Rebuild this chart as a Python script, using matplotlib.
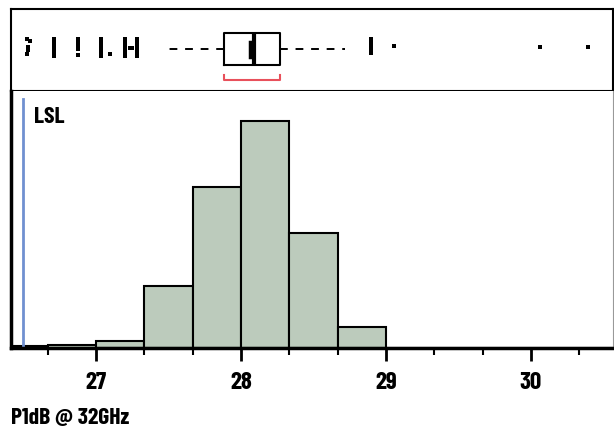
import matplotlib

matplotlib.use("Agg")
import matplotlib.pyplot as plt
import numpy as np

plt.rcParams["font.family"] = ["Barlow Condensed", "Liberation Sans", "DejaVu Sans"]
plt.rcParams["font.weight"] = "semibold"

# histogram bins (width 1/3) and counts
bin_edges = [26 + i / 3 for i in range(1, 15)]
counts = [5, 7, 15, 125, 327, 462, 234, 42, 1, 0, 0, 1, 1]

# box plot summary
q1 = 27.883
median = 28.09
q3 = 28.269
whisker_lo = 27.46
whisker_hi = 28.717
mean_value = 28.065
short_half_lo = 27.883
short_half_hi = 28.269

# outliers (value, jitter height in box panel)
outlier_x = [26.521, 26.548, 26.528, 26.528, 26.521,
             26.71, 26.71, 26.71, 26.71, 26.71, 26.71,
             26.876, 26.876, 26.876, 26.876, 26.876,
             27.035, 27.035, 27.035, 27.035, 27.035, 27.035, 27.097,
             27.2, 27.2, 27.2, 27.2, 27.2, 27.2, 27.235, 27.25,
             27.283, 27.283, 27.283, 27.283, 27.283, 27.283,
             28.9, 28.9, 28.9, 28.9, 28.9, 29.055, 30.062, 30.393]
outlier_y = [0.634, 0.615, 0.537, 0.500, 0.451,
             0.630, 0.590, 0.550, 0.510, 0.470, 0.430,
             0.630, 0.590, 0.550, 0.510, 0.440,
             0.630, 0.590, 0.550, 0.510, 0.470, 0.430, 0.450,
             0.630, 0.590, 0.550, 0.510, 0.470, 0.430, 0.525, 0.525,
             0.630, 0.590, 0.550, 0.510, 0.470, 0.430,
             0.630, 0.590, 0.550, 0.510, 0.460, 0.549, 0.537, 0.537]

lsl = 26.5
major_ticks = [27, 28, 29, 30]
minor_ticks = [26 + i / 3 for i in range(2, 14)]
xlim = (26.414, 30.566)

W, H = 614, 429
fig = plt.figure(figsize=(W / 100, H / 100), dpi=100)

left = 11 / W
width = (613 - 11) / W
ax_box = fig.add_axes([left, (H - 91) / H, width, (91 - 9) / H])
ax_hist = fig.add_axes([left, (H - 348) / H, width, (348 - 91) / H])

# box panel
stats = [{"med": median, "q1": q1, "q3": q3, "whislo": whisker_lo,
          "whishi": whisker_hi, "fliers": []}]
ax_box.bxp(stats, positions=[0.512], widths=0.39, orientation="horizontal",
           showcaps=False, showfliers=False,
           boxprops={"color": "black", "linewidth": 1.5},
           whiskerprops={"color": "black", "linewidth": 1.4, "linestyle": (0, (4, 4))},
           medianprops={"color": "black", "linewidth": 3})
ax_box.plot([mean_value, mean_value], [0.415, 0.598], color="black", linewidth=2.5)
ax_box.plot([short_half_lo, short_half_lo, short_half_hi, short_half_hi],
            [0.195, 0.134, 0.134, 0.195], color="#e8505b", linewidth=1.5)
ax_box.scatter(outlier_x, outlier_y, marker="s", s=11, color="black", linewidths=0)
ax_box.set_xlim(*xlim)
ax_box.set_ylim(0, 1)
ax_box.set_xticks([])
ax_box.set_yticks([])
for side in ax_box.spines.values():
    side.set_linewidth(1.5)

# histogram panel
ax_hist.bar(bin_edges[:-1], counts, width=np.diff(bin_edges), align="edge",
            color="#bccbbc", edgecolor="black", linewidth=1.5)
ax_hist.axvline(lsl, color="#7090d0", linewidth=2, ymax=0.97)
ax_hist.text(26.575, 469, "LSL", fontsize=17, fontweight="bold", va="center")
ax_hist.set_xlim(*xlim)
ax_hist.set_ylim(0, 522)
ax_hist.set_yticks([])
ax_hist.set_xticks(major_ticks)
ax_hist.set_xticks(minor_ticks, minor=True)
ax_hist.tick_params(axis="x", which="major", length=9, width=2, labelsize=18, pad=8)
ax_hist.tick_params(axis="x", which="minor", length=5, width=1.5)
for lab in ax_hist.get_xticklabels():
    lab.set_fontweight("bold")
ax_hist.spines["top"].set_visible(False)
ax_hist.spines["bottom"].set_linewidth(2.5)
ax_hist.spines["left"].set_linewidth(2.5)
ax_hist.spines["right"].set_color("#999999")

fig.text(11 / W, 1 - 418 / H, "P1dB @ 32GHz", fontsize=17, fontweight="bold", va="center")

fig.savefig("out.png", dpi=100)
